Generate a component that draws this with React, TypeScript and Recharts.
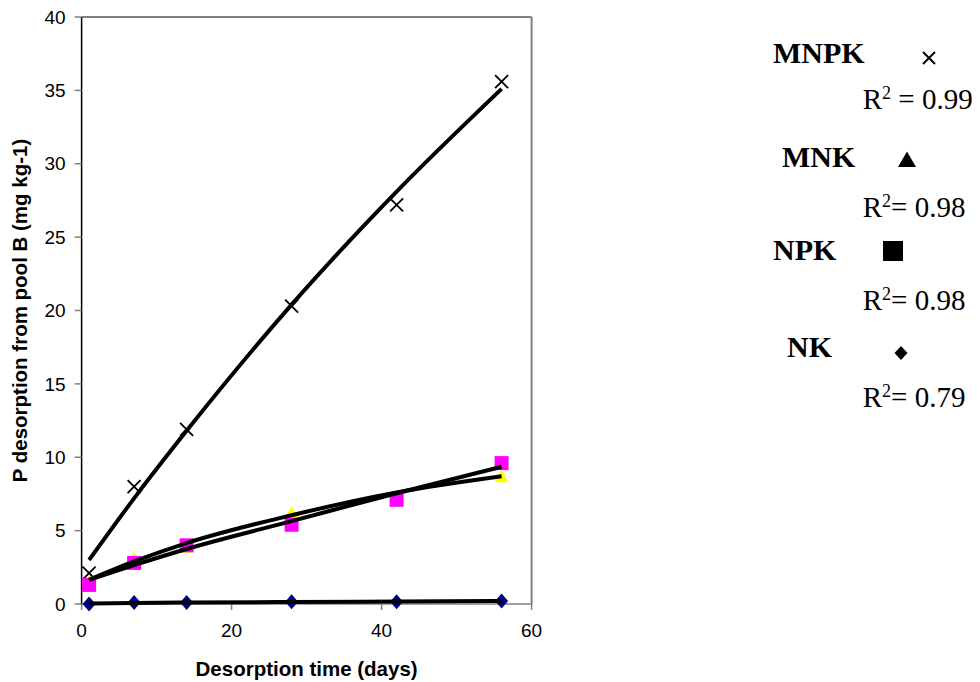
import React from 'react';
import { ComposedChart, Line, Scatter, XAxis, YAxis, ReferenceLine } from 'recharts';

// sampling days
const days = [1, 7, 14, 28, 42, 56];

// measured P desorption (mg kg-1)
const mnpk = [2.1, 8.0, 11.9, 20.3, 27.2, 35.6];
const mnk = [1.5, 3.1, 3.9, 6.2, 7.3, 8.7];
const npk = [1.3, 2.8, 4.0, 5.4, 7.1, 9.6];
const nk = [0.0, 0.1, 0.1, 0.15, 0.15, 0.2];

// trend lines at the same days
const mnpkTrend = [3.0, 7.2, 11.8, 20.4, 28.1, 35.1];
const mnkTrend = [1.65, 2.9, 4.15, 6.05, 7.6, 8.7];
const npkTrend = [1.65, 2.65, 3.75, 5.65, 7.55, 9.35];
const nkTrend = [0.03, 0.07, 0.1, 0.14, 0.17, 0.2];

const xTicks = [0, 20, 40, 60];
const yTicks = [0, 5, 10, 15, 20, 25, 30, 35, 40];

const legendNames = ['MNPK', 'MNK', 'NPK', 'NK'];
const legendSep = [' = ', '= ', '= ', '= '];
const legendR2 = ['0.99', '0.98', '0.98', '0.79'];

const pts = (ys: number[]) => days.map((x, i) => ({ x, y: ys[i] }));

const SANS = '"Liberation Sans", Arial, sans-serif';
const SERIF = '"Liberation Serif", "Times New Roman", serif';

const Cross = ({ cx, cy }: any) => (
  <g stroke="#000" strokeWidth={1.8}>
    <line x1={cx - 6.5} y1={cy - 6.5} x2={cx + 6.5} y2={cy + 6.5} />
    <line x1={cx - 6.5} y1={cy + 6.5} x2={cx + 6.5} y2={cy - 6.5} />
  </g>
);
const Tri = ({ cx, cy }: any) => (
  <polygon points={`${cx},${cy - 7} ${cx + 7},${cy + 6} ${cx - 7},${cy + 6}`} fill="#ffff00" />
);
const Sq = ({ cx, cy }: any) => <rect x={cx - 7} y={cy - 7} width={14} height={14} fill="#ff00ff" />;
const Dia = ({ cx, cy }: any) => (
  <polygon points={`${cx},${cy - 7.5} ${cx + 6.5},${cy} ${cx},${cy + 7.5} ${cx - 6.5},${cy}`} fill="#000080" />
);

const XTitle = ({ viewBox }: any) => (
  <text x={viewBox.x + viewBox.width / 2} y={viewBox.y + 72} textAnchor="middle"
    fontFamily={SANS} fontWeight="bold" fontSize={20.5} fill="#000">Desorption time (days)</text>
);
const YTitle = ({ viewBox }: any) => {
  const cy = viewBox.y + viewBox.height / 2;
  return (
    <text x={27} y={cy} transform={`rotate(-90, 27, ${cy})`} textAnchor="middle"
      fontFamily={SANS} fontWeight="bold" fontSize={20.5} fill="#000">P desorption from pool B (mg kg-1)</text>
  );
};

// legend markers
const legendRows = [63, 167, 260, 357];
const legendLabelX = [773, 782, 773, 787];
const legendMarks = [
  <g key="m0" stroke="#000" strokeWidth={2}><line x1={923} y1={52} x2={935} y2={64} /><line x1={923} y1={64} x2={935} y2={52} /></g>,
  <polygon key="m1" points="907,151.5 916,167 898,167" fill="#000" />,
  <rect key="m2" x={883} y={241} width={20} height={20} fill="#000" />,
  <polygon key="m3" points="901,346 907.5,353 901,360 894.5,353" fill="#000" />,
];

export default function App() {
  return (
    <div style={{ position: 'absolute', left: 0, top: 0, width: 980, height: 682, background: '#fff' }}>
      <ComposedChart width={980} height={682} margin={{ top: 17, right: 448.4, left: 21.6, bottom: 0 }}>
        <XAxis dataKey="x" type="number" domain={[0, 60]} ticks={xTicks}
          height={78} tickSize={6} tickMargin={14} stroke="#808080" strokeWidth={1.5}
          tick={{ fill: '#000', fontSize: 19, fontFamily: SANS }} label={<XTitle />} />
        <YAxis dataKey="y" type="number" domain={[0, 40]} ticks={yTicks}
          width={60} tickSize={7} tickMargin={9} stroke="#000" strokeWidth={1.5}
          tick={{ fill: '#000', fontSize: 19, fontFamily: SANS }} tickLine={{ stroke: '#808080' }} label={<YTitle />} />
        <ReferenceLine y={40} stroke="#808080" strokeWidth={2} />
        <ReferenceLine x={60} stroke="#808080" strokeWidth={2} />
        <Scatter data={pts(mnpk)} shape={<Cross />} isAnimationActive={false} />
        <Scatter data={pts(mnk)} shape={<Tri />} isAnimationActive={false} />
        <Scatter data={pts(npk)} shape={<Sq />} isAnimationActive={false} />
        <Scatter data={pts(nk)} shape={<Dia />} isAnimationActive={false} />
        <Line data={pts(mnpkTrend)} dataKey="y" type="monotone" stroke="#000" strokeWidth={4} dot={false} isAnimationActive={false} zIndex={700} />
        <Line data={pts(mnkTrend)} dataKey="y" type="monotone" stroke="#000" strokeWidth={4} dot={false} isAnimationActive={false} zIndex={700} />
        <Line data={pts(npkTrend)} dataKey="y" type="monotone" stroke="#000" strokeWidth={4} dot={false} isAnimationActive={false} zIndex={700} />
        <Line data={pts(nkTrend)} dataKey="y" type="monotone" stroke="#000" strokeWidth={4} dot={false} isAnimationActive={false} zIndex={700} />
      </ComposedChart>
      <svg width={980} height={682} style={{ position: 'absolute', left: 0, top: 0, pointerEvents: 'none' }}>
        {legendNames.map((name, i) => (
          <g key={name}>
            <text x={legendLabelX[i]} y={legendRows[i]} fontFamily={SERIF} fontWeight="bold" fontSize={30} fill="#000">{name}</text>
            {legendMarks[i]}
            <text x={862.7} y={legendRows[i] + (i === 0 ? 46 : 50)} fontFamily={SERIF} fontSize={29} fill="#000">
              R<tspan dy={-10} fontSize={18}>2</tspan><tspan dy={10}>{legendSep[i] + legendR2[i]}</tspan>
            </text>
          </g>
        ))}
      </svg>
    </div>
  );
}
